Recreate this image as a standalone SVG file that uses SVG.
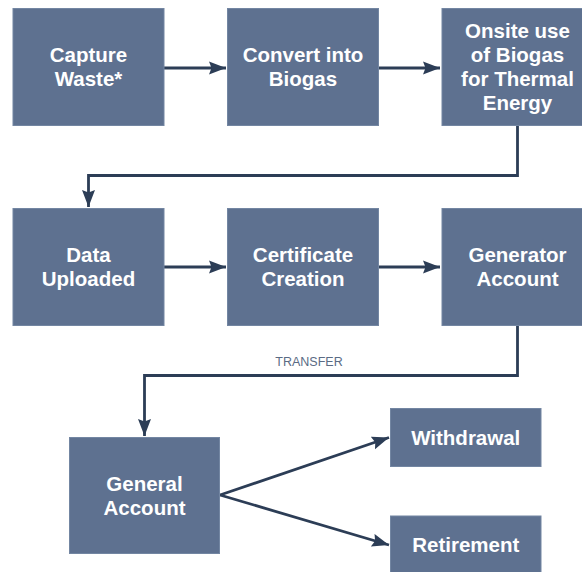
<svg xmlns="http://www.w3.org/2000/svg" width="582" height="572" viewBox="0 0 582 572">
<defs>
<style>
.box{fill:#5e7190;stroke:#7386a2;stroke-width:1}
.lbl{font-family:"Liberation Sans",Arial,sans-serif;font-weight:bold;font-size:20.5px;fill:#ffffff;text-anchor:middle}
.con{fill:none;stroke:#2c3d56;stroke-width:2.8}
.tl{font-family:"Liberation Sans",Arial,sans-serif;font-size:12.5px;fill:#5a6b84;text-anchor:middle}
</style>
<marker id="ah" markerUnits="userSpaceOnUse" markerWidth="20" markerHeight="16" refX="17" refY="7" orient="auto">
<path d="M0,0.5 L17,7 L0,13.5 L2.5,7 Z" fill="#2c3d56"/>
</marker>
</defs>
<rect width="582" height="572" fill="#ffffff"/>
<g id="connectors">
<line class="con" x1="164" y1="68" x2="226" y2="68" marker-end="url(#ah)"/>
<line class="con" x1="379" y1="68" x2="440" y2="68" marker-end="url(#ah)"/>
<polyline class="con" points="517.5,126 517.5,175.5 88.5,175.5 88.5,207" marker-end="url(#ah)"/>
<line class="con" x1="164" y1="267" x2="226" y2="267" marker-end="url(#ah)"/>
<line class="con" x1="379" y1="267" x2="440" y2="267" marker-end="url(#ah)"/>
<polyline class="con" points="517.5,325 517.5,375.5 144.5,375.5 144.5,436" marker-end="url(#ah)"/>
<text class="tl" x="309" y="366">TRANSFER</text>
<line class="con" x1="220" y1="495" x2="389" y2="437.5" marker-end="url(#ah)"/>
<line class="con" x1="220" y1="495" x2="389" y2="545" marker-end="url(#ah)"/>
</g>
<g id="capture"><rect class="box" x="13" y="8.5" width="151" height="117"/><text class="lbl" x="88.5" y="62">Capture</text><text class="lbl" x="88.5" y="86">Waste*</text></g>
<g id="convert"><rect class="box" x="227.5" y="8.5" width="151" height="117"/><text class="lbl" x="303" y="62">Convert into</text><text class="lbl" x="303" y="86">Biogas</text></g>
<g id="onsite"><rect class="box" x="442" y="8.5" width="151" height="117"/><text class="lbl" x="517.5" y="38">Onsite use</text><text class="lbl" x="517.5" y="62">of Biogas</text><text class="lbl" x="517.5" y="86">for Thermal</text><text class="lbl" x="517.5" y="110">Energy</text></g>
<g id="data"><rect class="box" x="13" y="208.5" width="151" height="117"/><text class="lbl" x="88.5" y="262">Data</text><text class="lbl" x="88.5" y="286">Uploaded</text></g>
<g id="certificate"><rect class="box" x="227.5" y="208.5" width="151" height="117"/><text class="lbl" x="303" y="262">Certificate</text><text class="lbl" x="303" y="286">Creation</text></g>
<g id="generator"><rect class="box" x="442" y="208.5" width="151" height="117"/><text class="lbl" x="517.5" y="262">Generator</text><text class="lbl" x="517.5" y="286">Account</text></g>
<g id="general"><rect class="box" x="69.5" y="437.5" width="150" height="116"/><text class="lbl" x="144.5" y="491">General</text><text class="lbl" x="144.5" y="515">Account</text></g>
<g id="withdrawal"><rect class="box" x="390.5" y="408.5" width="150.5" height="58"/><text class="lbl" x="465.75" y="444.5">Withdrawal</text></g>
<g id="retirement"><rect class="box" x="390.5" y="516" width="150.5" height="58"/><text class="lbl" x="465.75" y="552">Retirement</text></g>
</svg>
